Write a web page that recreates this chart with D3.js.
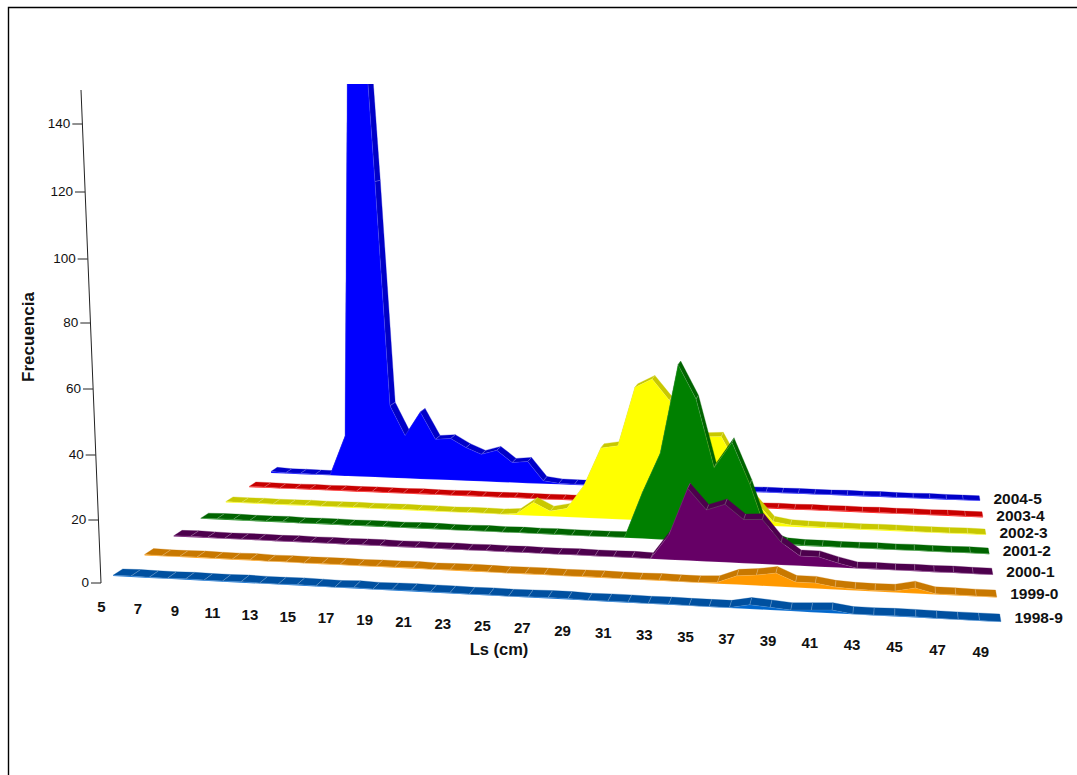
<!DOCTYPE html>
<html>
<head>
<meta charset="utf-8">
<script src="https://cdn.jsdelivr.net/npm/d3@7"></script>
<style>
  html, body { margin: 0; padding: 0; background: #fff; }
  svg { display: block; }
  text { font-family: "Liberation Sans", Arial, sans-serif; fill: #111; }
</style>
</head>
<body>
<svg id="chart" width="1077" height="775"></svg>
<script>
// talla (Ls) de cada punto: 5 a 50 cm
const lsBins = d3.range(5, 51);
// la serie 2004-5 tiene un punto extra en el borde del pico recortado
const lsBins2004 = [5, 6, 7, 8, 9, 10, 10.2].concat(d3.range(11, 51));
const lsTicks = d3.range(5, 50, 2);
const freqTicks = [0, 20, 40, 60, 80, 100, 120, 140];

const seasons = ["1998-9", "1999-0", "2000-1", "2001-2", "2002-3", "2003-4", "2004-5"];
const faceColors = ["#0066cc", "#ff9900", "#660066", "#008000", "#ffff00", "#ff0000", "#0000ff"];
const topColors = ["#0050a0", "#c87800", "#4d004d", "#006400", "#c8c800", "#c80000", "#0000c8"];

// cada fila: Ls 5-14, 15-24, 25-34, 35-44, 45-50
const freq1998 = [.2,.3,.2,.2,.3,.2,.2,.3,.2,.2,
  .3,.2,.1,.3,.1,.2,.3,.2,.2,.1,
  .2,.1,.2,.3,.3,.1,.2,.2,.1,.2,
  .1,.1,.1,1.2,.8,.3,.6,.9,.1,.1,
  .2,.2,.1,.1,.1,.1];
const freq1999 = [.3,.2,.2,.3,.2,.2,.3,.1,.2,.1,
  .2,.2,.1,.2,.2,.3,.1,.2,.3,.2,
  .1,.2,.2,.1,.2,.2,.1,.1,.2,.1,
  .1,.4,2.6,3.1,4,1.6,1.6,.7,.4,.3,
  .4,1.6,.2,.2,.1,.1];
const freq2000 = [.2,.3,.2,.1,.2,.2,.1,.2,.1,.2,
  .1,.2,.2,.1,.2,.1,.2,.1,.2,.1,
  .2,.1,.1,.2,.1,.1,.2,0,7.8,22.5,
  16,18,13.5,13.8,7,3,3,1.4,.1,.2,
  .1,.2,.1,.2,.1,.1];
const freq2001 = [.2,.3,.3,.2,.2,.3,.1,.2,.2,.1,
  .2,.2,.1,.2,.2,.1,.1,.2,.1,.2,
  .1,.2,.1,.1,.1,.2,15,28,57,46,
  24,32.4,19,2.5,.5,.2,.2,.1,.1,.2,
  .1,.2,.1,.1,.2,.1];
const freq2002 = [.3,.2,.3,.2,.2,.3,.2,.2,.3,.2,
  .2,.3,.2,.2,.1,.2,.2,.1,.5,4.6,
  1.8,3,11,24,25,45,48,41,35,29,
  29.3,19,8,1.5,.6,.4,.3,.3,.2,.3,
  .3,.2,.2,.2,.3,.2];
const freq2003 = [.3,.3,.2,.2,.3,.2,.3,.2,.3,.2,
  .2,.3,.2,.2,.3,.2,.2,.3,.2,.2,
  .3,.2,.2,.3,.3,.2,.3,.2,.2,.3,
  .2,.3,.2,.3,.2,.3,.2,.3,.2,.3,
  .2,.3,.2,.3,.2,.2];
// 47 puntos, como lsBins2004
const freq2004 = [.6,.3,.3,.2,.2,15,195,
  190,111,27,16,25,15,15.5,12.3,10,11.7,
  7.4,8,1.1,.4,.3,.3,.2,.3,.2,.3,
  .3,.2,.2,.3,.3,.2,.3,.2,.3,.2,
  .2,.3,.2,.3,.2,.2,.3,.2,.2,.2];
const freqBySeason = [freq1998, freq1999, freq2000, freq2001, freq2002, freq2003, freq2004];
const lsBySeason = [lsBins, lsBins, lsBins, lsBins, lsBins, lsBins, lsBins2004];

const svg = d3.select("#chart");

// marco
svg.append("path").attr("d", "M8.5,775V7.5H1077").attr("fill", "none").attr("stroke", "#000").attr("stroke-width", 1.4);

// suelo en perspectiva: esquinas del plano Ls / temporada
const c0 = [113, 576], c1 = [1001, 622], c2 = [980, 501], c3 = [271, 473];
const dx1 = c1[0] - c2[0], dx2 = c3[0] - c2[0], sx = c0[0] - c1[0] + c2[0] - c3[0];
const dy1 = c1[1] - c2[1], dy2 = c3[1] - c2[1], sy = c0[1] - c1[1] + c2[1] - c3[1];
const den = dx1 * dy2 - dx2 * dy1;
const g = (sx * dy2 - dx2 * sy) / den;
const h = (dx1 * sy - sx * dy1) / den;
const a = c1[0] - c0[0] + g * c1[0], b = c3[0] - c0[0] + h * c3[0];
const d_ = c1[1] - c0[1] + g * c1[1], e = c3[1] - c0[1] + h * c3[1];

const tScale = d3.scaleLinear().domain([5, 35, 50]).range([0, 0.67, 1]);
const sScale = d3.scaleLinear().domain([0, 6]).range([0, 1]);
const heightPx = d3.scaleLinear().domain([0, 1]).range([0, 3.29]); // px por unidad en el frente

function project(ls, depth, v) {
  const t = tScale(ls), s = sScale(depth);
  const w = g * t + h * s + 1;
  return [
    (a * t + b * s + c0[0]) / w,
    (d_ * t + e * s + c0[1]) / w - heightPx(v) / w
  ];
}

const ribbon = 0.3; // fondo de la cinta, en temporadas
const polygon = d3.line();

svg.append("clipPath").attr("id", "top-clip")
  .append("rect").attr("x", 0).attr("y", 84).attr("width", 1077).attr("height", 700);

// de atrás hacia adelante
d3.range(6, -1, -1).forEach(i => {
  const ls = lsBySeason[i], vals = freqBySeason[i];
  const layer = svg.append("g").attr("clip-path", "url(#top-clip)");
  const segs = d3.pairs(d3.zip(ls, vals));

  layer.selectAll("path.top").data(segs).enter().append("path")
    .attr("class", "top")
    .attr("fill", topColors[i])
    .attr("stroke", topColors[i])
    .attr("stroke-width", 0.3)
    .attr("d", ([p, q]) => polygon([
      project(p[0], i, p[1]), project(q[0], i, q[1]),
      project(q[0], i + ribbon, q[1]), project(p[0], i + ribbon, p[1])
    ]) + "Z");

  layer.selectAll("line.sep").data(ls.slice(1, -1).map((l, k) => [l, vals[k + 1]])).enter().append("line")
    .attr("class", "sep")
    .attr("stroke", "#fff").attr("stroke-opacity", 0.4).attr("stroke-width", 0.6)
    .attr("x1", p => project(p[0], i, p[1])[0]).attr("y1", p => project(p[0], i, p[1])[1])
    .attr("x2", p => project(p[0], i + ribbon, p[1])[0]).attr("y2", p => project(p[0], i + ribbon, p[1])[1]);

  const edge = ls.map((l, k) => project(l, i, vals[k]));
  const base = ls.map(l => project(l, i, 0)).reverse();
  layer.append("path")
    .attr("fill", faceColors[i])
    .attr("stroke", "#fff").attr("stroke-opacity", 0.25).attr("stroke-width", 0.5)
    .attr("d", polygon(edge.concat(base)) + "Z");

  const end = project(50, i, 0);
  svg.append("text")
    .attr("x", end[0] + 13.5).attr("y", end[1] - 3 + i * 0.4)
    .attr("dominant-baseline", "middle")
    .attr("font-size", 15.5).attr("font-weight", "bold")
    .text(seasons[i]);
});

// eje de frecuencia
const yScale = d3.scaleLinear().domain(freqTicks).range([583, 520, 455, 389, 323, 259, 192, 124]);
const axisX = d3.scaleLinear().domain([0, 150]).range([101, 81]);
svg.append("line")
  .attr("x1", axisX(0)).attr("y1", yScale(0))
  .attr("x2", axisX(150)).attr("y2", yScale(150))
  .attr("stroke", "#222").attr("stroke-width", 1);
const yTick = svg.selectAll("g.ytick").data(freqTicks).enter().append("g").attr("class", "ytick");
yTick.append("line")
  .attr("x1", v => axisX(v) - 10).attr("x2", v => axisX(v))
  .attr("y1", v => yScale(v)).attr("y2", v => yScale(v))
  .attr("stroke", "#222").attr("stroke-width", 1);
yTick.append("text")
  .attr("x", v => axisX(v) - 12).attr("y", v => yScale(v))
  .attr("text-anchor", "end").attr("dominant-baseline", "middle")
  .attr("font-size", 13.5)
  .text(v => v);

// etiquetas de talla
svg.selectAll("text.xtick").data(lsTicks).enter().append("text")
  .attr("class", "xtick")
  .attr("x", l => project(l, -0.35, 0)[0]).attr("y", l => project(l, 0, 0)[1] + 32)
  .attr("text-anchor", "middle").attr("dominant-baseline", "middle")
  .attr("font-size", 15).attr("font-weight", "bold")
  .text(l => l);

svg.append("text")
  .attr("x", 499).attr("y", 651)
  .attr("text-anchor", "middle").attr("dominant-baseline", "middle")
  .attr("font-size", 16.5).attr("font-weight", "bold")
  .text("Ls (cm)");

svg.append("text")
  .attr("transform", "translate(30,337) rotate(-90)")
  .attr("text-anchor", "middle").attr("dominant-baseline", "middle")
  .attr("font-size", 17).attr("font-weight", "bold")
  .text("Frecuencia");
</script>
</body>
</html>
